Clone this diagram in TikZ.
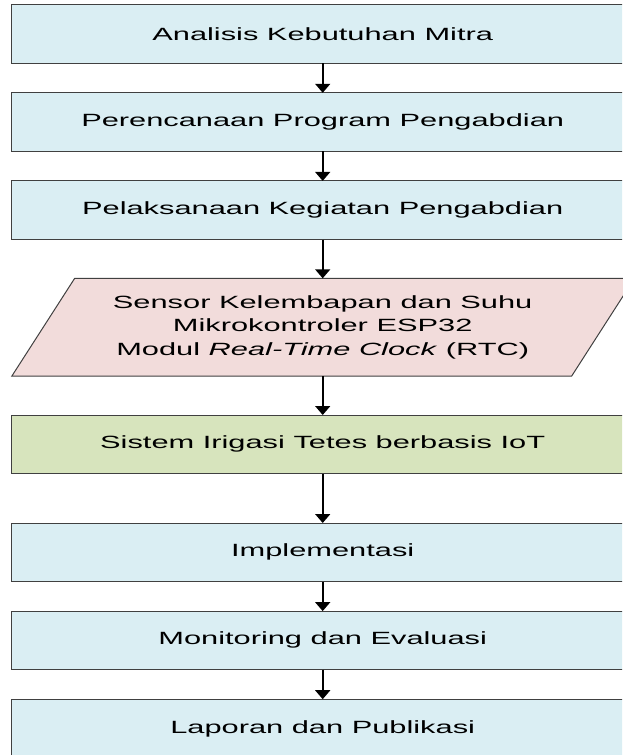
\documentclass[tikz,border=0pt]{standalone}
\usepackage{fontspec}
\setmainfont{Liberation Sans}[FakeStretch=1.74]
\usetikzlibrary{positioning,arrows.meta,backgrounds}
\definecolor{boxblue}{HTML}{DAEEF3}
\definecolor{boxpink}{HTML}{F2DCDB}
\definecolor{boxgreen}{HTML}{D7E4BD}
\definecolor{edgegray}{HTML}{404040}

\begin{document}
\begin{tikzpicture}
                [x=1pt,y=1pt,node distance=29.5pt,
                box/.style={rectangle,draw=edgegray,line width=1pt,outer sep=0pt,fill=boxblue,minimum width=621.5pt,minimum height=58.6pt,inner sep=0pt,font=\fontsize{17.7}{23.5}\selectfont},
                io/.style={rectangle,outer sep=0pt,minimum width=400pt,minimum height=97.7pt,inner sep=0pt,align=center,font=\fontsize{17.7}{23.5}\selectfont},
                iobox/.style={draw=edgegray,line width=1pt,fill=boxpink},
                arr/.style={-{Triangle[width=15pt,length=9pt]},line width=1.6pt}]
                \useasboundingbox (0,0) rectangle (622,-755);
                \clip (0,0) rectangle (622,-755);
                \node[box] (a) at (322.7,-34) {Analisis Kebutuhan Mitra};
                \node[box] (b)[below=of a]{Perencanaan Program Pengabdian};
                \node[box] (c)[below=of b]{Pelaksanaan Kegiatan Pengabdian};
                \node[io,node distance=38.8pt] (d)[below=of c]{Sensor Kelembapan dan Suhu\\Mikrokontroler ESP32\\Modul \textit{Real-Time Clock} (RTC)};
                \node[box,fill=boxgreen,node distance=39pt] (e)[below=of d]{Sistem Irigasi Tetes berbasis IoT};
                \node[box,node distance=49.4pt] (f)[below=of e]{Implementasi};
                \node[box] (g)[below=of f]{Monitoring dan Evaluasi};
                \node[box] (h)[below=of g]{Laporan dan Publikasi};
                % parallelogram behind the input node
                \begin{scope}[on background layer]
                \draw[iobox] ([shift={(-310.8,-48.85)}]d.center) -- ++(559.8,0) -- ++(62.8,97.7) -- ++(-559.8,0) -- cycle;
                \end{scope}
                \draw[arr] (a) -- (b);
                \draw[arr] (b) -- (c);
                \draw[arr] (c) -- (d);
                \draw[arr] (d) -- (e);
                \draw[arr] (e) -- (f);
                \draw[arr] (f) -- (g);
                \draw[arr] (g) -- (h);
            \end{tikzpicture}
\end{document}
